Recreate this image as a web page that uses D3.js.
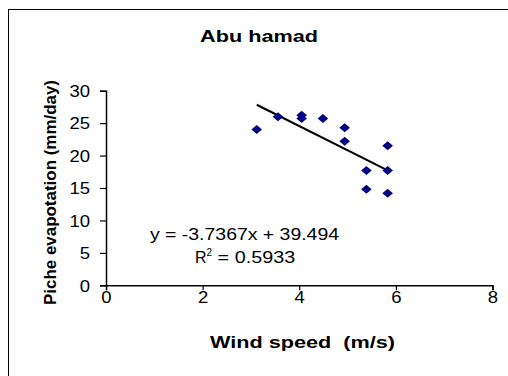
<!DOCTYPE html>
<html><head><meta charset="utf-8">
<script src="https://cdn.jsdelivr.net/npm/d3@7"></script>
<style>body{margin:0;background:#fff}svg{display:block}text{font-family:Arial,"Liberation Sans",sans-serif}</style>
</head><body>
<script>
const windSpeed = [3.12, 3.56, 4.05, 4.05, 4.49, 4.94, 4.94, 5.39, 5.39, 5.83, 5.83, 5.83];
const evaporation = [24.0, 26.0, 26.2, 25.7, 25.7, 24.3, 22.2, 17.7, 14.8, 21.5, 17.7, 14.2];
const xTicks = [0, 2, 4, 6, 8];
const yTicks = [0, 5, 10, 15, 20, 25, 30];
const slope = -3.7367, intercept = 39.494;
const trendRange = [3.12, 5.83];

const W = 508, H = 376;
const svg = d3.select("body").append("svg").attr("width", W).attr("height", H);
svg.append("rect").attr("x", 8.5).attr("y", 9.5).attr("width", 510).attr("height", 380)
  .attr("fill", "#fff").attr("stroke", "#000").attr("stroke-width", 1);

const x = d3.scaleLinear().domain([0, 8]).range([106, 492.5]);
const y = d3.scaleLinear().domain([0, 30]).range([285.3, 90.7]);

const xAxis = svg.append("g").attr("transform", `translate(0,${y(0)})`)
  .call(d3.axisBottom(x).tickValues(xTicks).tickSize(5).tickPadding(13).tickFormat(d3.format("d")));
const yAxis = svg.append("g").attr("transform", `translate(${x(0)},0)`)
  .call(d3.axisLeft(y).tickValues(yTicks).tickSize(6).tickPadding(10).tickFormat(d3.format("d")));
[xAxis, yAxis].forEach(g => {
  g.select(".domain").attr("stroke", "#000").attr("stroke-width", 1.5);
  g.selectAll(".tick line").attr("stroke", "#000").attr("stroke-width", 1.2);
  g.selectAll(".tick text").attr("fill", "#000").style("font-size", "16px")
    .style("font-family", "Arial, 'Liberation Sans', sans-serif")
    .attr("textLength", d => String(d).length * 10.3).attr("lengthAdjust", "spacingAndGlyphs");
});
xAxis.selectAll(".tick text").attr("dy", "0");
yAxis.selectAll(".tick text").attr("dy", "0.36em");

// trendline
svg.append("line")
  .attr("x1", x(trendRange[0])).attr("y1", y(slope * trendRange[0] + intercept))
  .attr("x2", x(trendRange[1])).attr("y2", y(slope * trendRange[1] + intercept))
  .attr("stroke", "#000").attr("stroke-width", 2);

// points
const pts = windSpeed.map((v, i) => [v, evaporation[i]]);
svg.selectAll("path.pt").data(pts).enter().append("path")
  .attr("class", "pt")
  .attr("d", "M0,-4.5 L5.3,0 L0,4.5 L-5.3,0 Z")
  .attr("transform", d => `translate(${x(d[0])},${y(d[1])})`)
  .attr("fill", "#000080");

// title & labels
svg.append("text").attr("x", 200).attr("y", 42)
  .attr("textLength", 118).attr("lengthAdjust", "spacingAndGlyphs")
  .style("font-size", "16.5px").style("font-weight", "bold").text("Abu hamad");
svg.append("text").attr("x", 210).attr("y", 348)
  .attr("textLength", 185).attr("lengthAdjust", "spacingAndGlyphs")
  .style("font-size", "16px").style("font-weight", "bold").attr("xml:space", "preserve")
  .text("Wind speed  (m/s)");
svg.append("text").attr("transform", "translate(56,305) rotate(-90)")
  .attr("textLength", 225).attr("lengthAdjust", "spacingAndGlyphs")
  .style("font-size", "16px").style("font-weight", "bold").text("Piche evapotation (mm/day)");

// equation
svg.append("text").attr("x", 150).attr("y", 240).style("font-size", "16px")
  .attr("textLength", 189).attr("lengthAdjust", "spacingAndGlyphs")
  .text(`y = ${slope}x + ${intercept}`);
const r2 = svg.append("text").attr("x", 195).attr("y", 263).style("font-size", "16px");
r2.append("tspan").text("R");
r2.append("tspan").attr("dy", -7).style("font-size", "10px").text("2");
r2.append("tspan").attr("dy", 7).attr("textLength", 83).attr("lengthAdjust", "spacingAndGlyphs").text(" = 0.5933");
</script>
</body></html>
